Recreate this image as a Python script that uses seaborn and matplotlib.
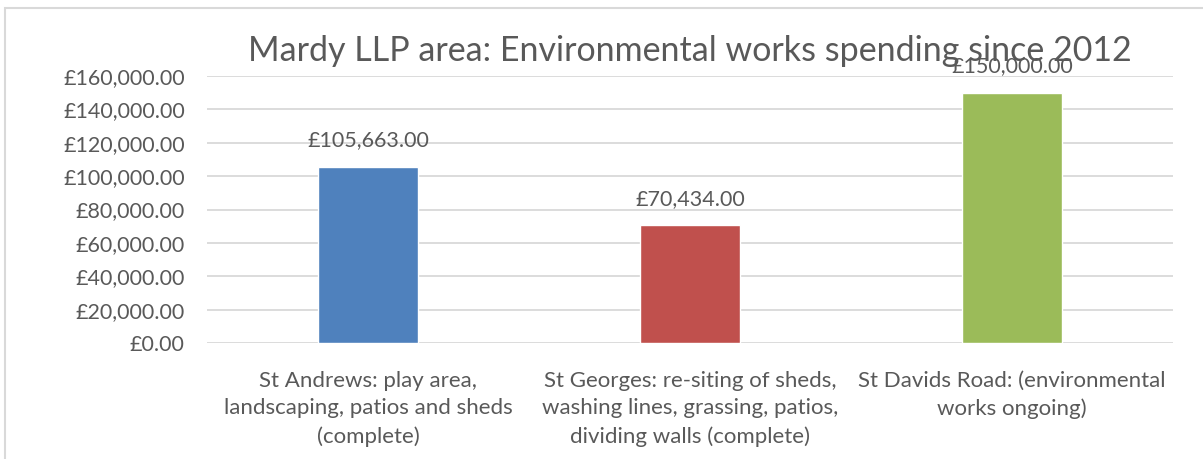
import matplotlib
matplotlib.use("Agg")
import matplotlib.pyplot as plt
import matplotlib.patches as mpatches
import seaborn as sns
import pandas as pd

categories = ["St Andrews: play area,\nlandscaping, patios and sheds\n(complete)",
              "St Georges: re-siting of sheds,\nwashing lines, grassing, patios,\ndividing walls (complete)",
              "St Davids Road: (environmental\nworks ongoing)"]
spending = [105663, 70434, 150000]
colours = ["#4F81BD", "#C0504D", "#9BBB59"]
yticks = [0, 20000, 40000, 60000, 80000, 100000, 120000, 140000, 160000]

sns.set_style("white")
plt.rcParams['font.family'] = ['Lato', 'DejaVu Sans']
grey = "#595959"

df = pd.DataFrame({"area": categories, "spend": spending})

fig = plt.figure(figsize=(12.03, 4.59), dpi=100)
ax = fig.add_axes([207 / 1203, 1 - 343 / 459, (1173 - 207) / 1203, (343 - 76) / 459])

# chart frame (cut off at right and bottom like the screenshot)
fig.patches.append(mpatches.Rectangle((5 / 1203, -0.1), 1.2, 1 - 8 / 459 + 0.1,
                                      transform=fig.transFigure, fill=False,
                                      edgecolor="#D9D9D9", lw=1.5, zorder=0))

sns.barplot(data=df, x="area", y="spend", hue="area", palette=colours,
            width=0.31, legend=False, ax=ax, saturation=1, zorder=3)

ax.set_ylim(0, 160000)
ax.set_yticks(yticks)
ax.set_yticklabels(["£{:,.2f}".format(v) for v in yticks], fontsize=15.5, color=grey)
ax.tick_params(axis="y", length=0, pad=16)
ax.tick_params(axis="x", length=0, pad=20)
for lbl in ax.get_xticklabels():
    lbl.set_fontsize(16)
    lbl.set_color(grey)
    lbl.set_linespacing(1.48)
ax.yaxis.grid(True, color="#D9D9D9", lw=1.3, zorder=0)
ax.set_axisbelow(True)
for s in ax.spines.values():
    s.set_visible(False)
ax.set_xlabel("")
ax.set_ylabel("")

for i, v in enumerate(spending):
    ax.annotate("£{:,.2f}".format(v), (i, v), xytext=(0, 12), textcoords="offset points",
                ha="center", va="bottom", fontsize=15.5, color=grey, zorder=5)

ax.set_title("Mardy LLP area: Environmental works spending since 2012",
             fontsize=24.5, color=grey, pad=11)

fig.savefig("out.png", dpi=100)
